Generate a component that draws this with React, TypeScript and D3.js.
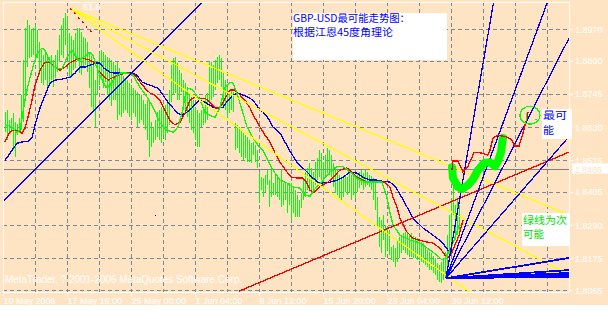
import React from "react";
import * as d3 from "d3";

// GBP-USD 4H chart with moving averages, Gann fan and hand-drawn forecast

const W = 608;
const H = 319;
const PANEL_H = 305;
const plot = { left: 3, right: 569, top: 2, bottom: 292 };

const priceTicks = [1.897, 1.886, 1.8745, 1.863, 1.8515, 1.8405, 1.829, 1.8175, 1.8065];
const priceTickLabels = ["1.8970", "1.8860", "1.8745", "1.8630", "1.8515", "1.8405", "1.8290", "1.8175", "1.8065"];
const timeTickBars = [0, 32, 64, 96, 128, 160, 192, 224];
const timeTickLabels = [
  "10 May 2006",
  "17 May 16:00",
  "25 May 00:00",
  "1 Jun 04:00",
  "8 Jun 12:00",
  "15 Jun 20:00",
  "23 Jun 04:00",
  "30 Jun 12:00",
];
const gridBars = d3.range(16, 273, 16);
const lastPrice = 1.8486;
const lastPriceLabel = "1.8486";

// bar index of the first entry in barHigh / barLow
const firstBar = 1;
const barHigh = [
  1.8682, 1.8689, 1.8654, 1.8661, 1.8678, 1.8647, 1.864, 1.8661, 1.8741, 1.8862,
  1.8973, 1.9001, 1.8983, 1.8966, 1.8973, 1.8983, 1.8966, 1.8924, 1.8897, 1.8879,
  1.8886, 1.8876, 1.8872, 1.8879, 1.8862, 1.8879, 1.8897, 1.8949, 1.8983, 1.9008,
  1.9025, 1.9011, 1.8956, 1.8945, 1.8931, 1.8956, 1.8973, 1.8973, 1.8959, 1.8942,
  1.8938, 1.8924, 1.889, 1.8876, 1.8855, 1.8793, 1.8852, 1.8886, 1.8897, 1.889,
  1.8879, 1.8872, 1.8869, 1.8862, 1.8855, 1.8845, 1.8855, 1.8834, 1.882, 1.8807,
  1.8793, 1.8793, 1.8782, 1.8775, 1.8765, 1.8758, 1.8751, 1.8741, 1.8741, 1.8723,
  1.8709, 1.8723, 1.8723, 1.8647, 1.863, 1.8654, 1.8682, 1.8689, 1.8699, 1.8689,
  1.8706, 1.8723, 1.8758, 1.8845, 1.8869, 1.8872, 1.8852, 1.8827, 1.8817, 1.8793,
  1.8782, 1.8768, 1.8748, 1.8734, 1.8723, 1.8696, 1.8689, 1.8678, 1.8689, 1.8696,
  1.8741, 1.8748, 1.8855, 1.8855, 1.8845, 1.8862, 1.8872, 1.8879, 1.8869, 1.8817,
  1.8793, 1.8768, 1.8748, 1.8758, 1.8751, 1.8644, 1.8637, 1.863, 1.8619, 1.8609,
  1.8602, 1.8595, 1.8585, 1.8574, 1.8578, 1.8567, 1.855, 1.847, 1.8456, 1.8453,
  1.8463, 1.8481, 1.8446, 1.8481, 1.8436, 1.8463, 1.8456, 1.8446, 1.8481, 1.8436,
  1.8439, 1.8436, 1.8436, 1.8436, 1.8422, 1.8411, 1.8394, 1.8377, 1.8401, 1.8446,
  1.8474, 1.8488, 1.8505, 1.8488, 1.8474, 1.8508, 1.8522, 1.855, 1.854, 1.8508,
  1.8533, 1.8557, 1.855, 1.8533, 1.8505, 1.8491, 1.8481, 1.8463, 1.8453, 1.8453,
  1.8463, 1.8456, 1.8474, 1.8463, 1.8463, 1.8456, 1.847, 1.8474, 1.8481, 1.847,
  1.8481, 1.8474, 1.8463, 1.846, 1.8453, 1.8446, 1.8387, 1.8318, 1.8307, 1.8325,
  1.829, 1.8283, 1.8273, 1.8214, 1.8221, 1.821, 1.8238, 1.8248, 1.8255, 1.8262,
  1.8266, 1.8262, 1.8255, 1.8262, 1.8252, 1.8248, 1.8245, 1.8238, 1.8231, 1.8228,
  1.8214, 1.8203, 1.8196, 1.8193, 1.8182, 1.8176, 1.8158, 1.8151, 1.8162, 1.8176,
  1.8196, 1.8255, 1.8325, 1.8377, 1.8488, 1.8359, 1.8377, 1.8359,
];
const barLow = [
  1.8612, 1.8585, 1.8609, 1.8616, 1.855, 1.8526, 1.8602, 1.8609, 1.8619, 1.8647,
  1.8741, 1.8838, 1.8869, 1.8872, 1.8879, 1.8862, 1.8869, 1.881, 1.8782, 1.8775,
  1.8793, 1.8768, 1.8775, 1.8793, 1.8768, 1.88, 1.882, 1.8855, 1.8879, 1.8869,
  1.8914, 1.889, 1.8803, 1.881, 1.8827, 1.8834, 1.8862, 1.8817, 1.881, 1.8838,
  1.8845, 1.882, 1.8765, 1.8699, 1.8682, 1.863, 1.8741, 1.8775, 1.8793, 1.8765,
  1.8786, 1.8741, 1.8723, 1.8702, 1.8723, 1.8723, 1.8654, 1.8671, 1.8664, 1.8678,
  1.8689, 1.8678, 1.8664, 1.8654, 1.8678, 1.8664, 1.863, 1.8644, 1.8654, 1.8637,
  1.8619, 1.8585, 1.8526, 1.856, 1.8574, 1.8585, 1.8595, 1.8585, 1.8574, 1.8602,
  1.8585, 1.8609, 1.8637, 1.8716, 1.8741, 1.8748, 1.8723, 1.8723, 1.8751, 1.8689,
  1.8678, 1.8664, 1.8644, 1.8619, 1.8609, 1.8585, 1.856, 1.856, 1.863, 1.8637,
  1.8644, 1.8654, 1.8699, 1.8723, 1.8734, 1.8758, 1.8782, 1.8793, 1.8768, 1.8699,
  1.8689, 1.8664, 1.8678, 1.8689, 1.8682, 1.855, 1.8557, 1.854, 1.8526, 1.8515,
  1.8522, 1.8508, 1.8508, 1.8505, 1.8533, 1.8508, 1.8488, 1.8366, 1.8411, 1.8387,
  1.8404, 1.8429, 1.8352, 1.8387, 1.8394, 1.8394, 1.8387, 1.8377, 1.8352, 1.8359,
  1.8377, 1.8332, 1.8359, 1.8307, 1.8332, 1.8318, 1.8318, 1.8318, 1.8349, 1.8377,
  1.8387, 1.8411, 1.8422, 1.8411, 1.8404, 1.8429, 1.8446, 1.8456, 1.8446, 1.8422,
  1.8453, 1.847, 1.8463, 1.8456, 1.8422, 1.8401, 1.8394, 1.8384, 1.8377, 1.8387,
  1.8404, 1.8394, 1.8401, 1.8377, 1.8394, 1.8384, 1.8404, 1.8418, 1.8429, 1.8411,
  1.8422, 1.8429, 1.8422, 1.8411, 1.8377, 1.8342, 1.8283, 1.8214, 1.8193, 1.8238,
  1.8179, 1.8203, 1.8186, 1.8169, 1.8162, 1.8144, 1.8162, 1.8176, 1.8193, 1.8203,
  1.8193, 1.8186, 1.8179, 1.8179, 1.8176, 1.8176, 1.8169, 1.8169, 1.8162, 1.8158,
  1.8151, 1.8144, 1.8134, 1.8134, 1.8124, 1.8117, 1.8099, 1.8092, 1.8089, 1.8099,
  1.8106, 1.8134, 1.8162, 1.8221, 1.8325, 1.8238, 1.8255, 1.8266,
];

// moving averages as [bar, price]
const fastMA: [number, number][] = [
  [1, 1.8633], [2.5, 1.8637], [4.5, 1.863], [6.5, 1.8612], [8.5, 1.8619], [9.5, 1.8661],
  [11, 1.8723], [12.5, 1.8775], [14.5, 1.8827], [16, 1.8862], [17.5, 1.889], [19.5, 1.8904],
  [21, 1.8897], [22.5, 1.8872], [24.5, 1.8845], [27, 1.8834], [29.5, 1.8834], [31, 1.8855],
  [32.5, 1.8879], [34.5, 1.8897], [36, 1.8879], [37.5, 1.8862], [39.5, 1.8869], [41.5, 1.8879],
  [43.5, 1.889], [45, 1.8879], [46.5, 1.8845], [48.5, 1.881], [50, 1.8786], [51.5, 1.8768],
  [53.5, 1.8775], [56, 1.88], [58.5, 1.8817], [62, 1.8817], [65, 1.881], [68.5, 1.8768],
  [72, 1.8734], [75, 1.8699], [78.5, 1.8644], [82, 1.8619], [85, 1.8612], [87.5, 1.863],
  [89.5, 1.8678], [91, 1.8734], [92.5, 1.8765], [95, 1.8758], [98.5, 1.8723], [101, 1.8682],
  [103.5, 1.8671], [106, 1.8664], [108.5, 1.8699], [111, 1.8768], [113.5, 1.8786], [115, 1.8782],
  [117, 1.8748], [119.5, 1.8689], [122, 1.863], [125, 1.8592], [127.5, 1.8567], [130, 1.855],
  [132.5, 1.8515], [135, 1.8481], [138.5, 1.8446], [142, 1.8436], [145, 1.8422], [148.5, 1.8418],
  [151, 1.8394], [153.5, 1.839], [157, 1.8425], [160, 1.8446], [163.5, 1.8474], [167, 1.8494],
  [170, 1.8494], [173.5, 1.8474], [177, 1.8453], [181, 1.8439], [185, 1.8439], [189.5, 1.8439],
  [192, 1.8384], [193.5, 1.8332], [195, 1.829], [198.5, 1.8255], [203.5, 1.8238], [208.5, 1.8228],
  [213.5, 1.8203], [217, 1.8186], [219.5, 1.8169], [221, 1.8176], [223.5, 1.8203], [226, 1.8245],
  [228, 1.829],
];
const midMA: [number, number][] = [
  [1, 1.8578], [2.5, 1.8602], [4.5, 1.8619], [7.5, 1.8619], [9.5, 1.8609], [11, 1.8626],
  [12.5, 1.8664], [14.5, 1.8723], [16, 1.8775], [18.5, 1.8827], [21, 1.8855], [23.5, 1.8855],
  [26, 1.8838], [28.5, 1.8827], [31, 1.8838], [33.5, 1.8852], [36, 1.8862], [39.5, 1.8869],
  [43.5, 1.8862], [46, 1.8852], [47.5, 1.8827], [50, 1.881], [52.5, 1.8793], [54.5, 1.88],
  [57.5, 1.881], [61, 1.8817], [63.5, 1.8817], [66, 1.881], [68.5, 1.8786], [71, 1.8765],
  [73.5, 1.8748], [76, 1.8741], [78.5, 1.8723], [81, 1.8689], [83.5, 1.8654], [86, 1.8637],
  [88.5, 1.8647], [91, 1.8678], [93.5, 1.8723], [96, 1.8734], [98.5, 1.873], [101, 1.873],
  [103.5, 1.8716], [106, 1.8696], [108.5, 1.8696], [111, 1.873], [113.5, 1.8758], [116, 1.8758],
  [118.5, 1.8741], [121, 1.8723], [123.5, 1.8696], [126, 1.8661], [128.5, 1.863], [131, 1.8602],
  [133.5, 1.8578], [136, 1.854], [138.5, 1.8508], [142, 1.8474], [144.5, 1.8456], [147, 1.8453],
  [150, 1.8453], [152, 1.8436], [153.5, 1.8411], [155.5, 1.8404], [158.5, 1.8425], [162, 1.8436],
  [165, 1.8456], [168.5, 1.8481], [172, 1.8488], [174.5, 1.8474], [177, 1.8456], [181, 1.8442],
  [186, 1.8439], [191, 1.8439], [193.5, 1.8422], [195, 1.8387], [197, 1.8352], [198.5, 1.8314],
  [202, 1.8266], [205, 1.8245], [210, 1.8234], [215, 1.8228], [218.5, 1.821], [221, 1.8186],
  [222.5, 1.8176], [224.5, 1.8196], [226, 1.8221], [228, 1.8255], [230, 1.8307],
];
const slowMA: [number, number][] = [
  [1, 1.8515], [2.5, 1.8529], [4.5, 1.855], [7, 1.8574], [9.5, 1.8578], [12.5, 1.8581],
  [14.5, 1.8592], [16, 1.8637], [18.5, 1.8696], [21, 1.8741], [23.5, 1.8782], [26, 1.8793],
  [29.5, 1.8796], [33.5, 1.8803], [36, 1.8817], [38.5, 1.8838], [41, 1.8838], [43.5, 1.8845],
  [46.5, 1.8852], [48.5, 1.8852], [50.5, 1.8834], [53.5, 1.882], [56, 1.8817], [58.5, 1.8817],
  [62, 1.8817], [65, 1.8817], [67, 1.881], [69.5, 1.8786], [73.5, 1.8775], [77.5, 1.8765],
  [80, 1.8741], [82.5, 1.8716], [85, 1.8696], [87.5, 1.8678], [89.5, 1.8671], [92, 1.8682],
  [94.5, 1.8696], [97, 1.8716], [98.5, 1.8723], [101, 1.8716], [105, 1.8699], [107.5, 1.8696],
  [110, 1.8699], [112.5, 1.8723], [115, 1.8741], [117.5, 1.8748], [120, 1.8741], [122.5, 1.8734],
  [125, 1.8723], [127.5, 1.8699], [130, 1.8682], [132.5, 1.8661], [135, 1.863], [138.5, 1.8609],
  [141, 1.8578], [143.5, 1.8546], [147, 1.8508], [151, 1.8481], [155, 1.8453], [157.5, 1.8439],
  [159.5, 1.8436], [163.5, 1.8439], [167, 1.8446], [170, 1.8456], [173.5, 1.8474], [177, 1.847],
  [180, 1.8456], [183.5, 1.8446], [187, 1.8446], [190, 1.8442], [193.5, 1.8439], [196, 1.8425],
  [198.5, 1.8397], [201, 1.8366], [205, 1.8314], [210, 1.828], [215, 1.8255], [219.5, 1.8231],
  [222.5, 1.8203], [224.5, 1.82],
];

// Gann fan from the 30 Jun low
const fanOrigin: [number, number] = [221.5, 1.8106];
const fanEnds: [number, number][] = [
  [245.3, 1.9063], [272.2, 1.9063], [283, 1.8938], [283, 1.8597],
  [283, 1.8176], [283, 1.8134], [283, 1.8124], [283, 1.8117], [283, 1.8111],
];
// yellow fan from the 61.8 swing high
const yellowOrigin: [number, number] = [33.5, 1.9042];
const yellowEnds: [number, number][] = [[283, 1.8325], [283, 1.8117], [233.5, 1.8058]];
const fibDotted: [number, number][] = [[33.5, 1.9042], [44.5, 1.8956]];
const blueTrend: [number, number][] = [[0, 1.8373], [99.5, 1.9063]];
const redTrend: [number, number][] = [[118, 1.8061], [283, 1.8543]];
const blueDot: [number, number] = [76, 1.8325];

// hand-drawn forecast paths
const likelyPath: [number, number][] = [
  [224.5, 1.8481], [225, 1.8512], [227.5, 1.8512], [230, 1.8474], [232.5, 1.8494],
  [234.5, 1.8526], [235.5, 1.8543], [239, 1.854], [242.5, 1.8533], [243.5, 1.855],
  [245, 1.8592], [247.5, 1.8602], [252, 1.8595], [254.5, 1.8585], [256, 1.8564],
  [258, 1.8564], [259, 1.8588], [260, 1.8609], [261, 1.8637], [262, 1.8661], [262.5, 1.8682],
];
const secondPath: [number, number][] = [
  [224.5, 1.8491], [225, 1.8453], [227.5, 1.8422], [229.5, 1.8415], [232.5, 1.8429],
  [235, 1.8449], [237.5, 1.8481], [240.5, 1.8505], [243.5, 1.8508], [246, 1.8494],
  [247.5, 1.8512], [249, 1.8543], [249.5, 1.8571], [250, 1.8592],
];
const targetCenter: [number, number] = [263.5, 1.8671];
const targetTick: [number, number][] = [[261.5, 1.8678], [261.5, 1.865]];
const targetDash: [number, number][] = [[266, 1.8657], [267, 1.8657]];

const x = d3.scaleLinear().domain([0, 283]).range([plot.left, plot.right]);
const y = d3.scaleLinear().domain([1.8065, 1.897]).range([290, 29]);

const line = d3
  .line<[number, number]>()
  .x((d) => x(d[0]))
  .y((d) => y(d[1]));

const BG = "#FFE4C4";
const GRID = "#778899";
const axisFont = "'Liberation Sans', Arial, sans-serif";
const cjkFont = "'Noto Sans CJK SC', sans-serif";
const crisp = "crispEdges";
const LW = 1.3;

export default function App() {
  const bars = barHigh.map((h, k) => {
    const b = firstBar + k;
    return { px: Math.round(x(b)) + 0.5, y1: y(h), y2: y(barLow[k]) };
  });

  return (
    <div style={{ position: "absolute", left: 0, top: 0 }}>
      <svg width={W} height={H} style={{ display: "block" }}>
        <defs>
          <clipPath id="plotClip">
            <rect x={plot.left} y={plot.top} width={plot.right - plot.left} height={plot.bottom - plot.top} />
          </clipPath>
        </defs>
        <rect x={0} y={0} width={W} height={H} fill="#ffffff" />
        <rect x={0} y={0} width={W} height={PANEL_H} fill={BG} />

        <g clipPath="url(#plotClip)">
          {/* grid */}
          {priceTicks.map((p) => (
            <line
              key={"h" + p}
              x1={plot.left}
              x2={plot.right}
              y1={Math.round(y(p)) + 0.5}
              y2={Math.round(y(p)) + 0.5}
              stroke={GRID}
              strokeDasharray="4,3"
              shapeRendering={crisp}
            />
          ))}
          {gridBars.map((b) => (
            <line
              key={"v" + b}
              x1={Math.round(x(b)) + 0.5}
              x2={Math.round(x(b)) + 0.5}
              y1={plot.top}
              y2={plot.bottom}
              stroke={GRID}
              strokeDasharray="4,3"
              shapeRendering={crisp}
            />
          ))}
          <line
            x1={plot.left}
            x2={plot.right}
            y1={Math.round(y(lastPrice)) + 0.5}
            y2={Math.round(y(lastPrice)) + 0.5}
            stroke="#808080"
            shapeRendering={crisp}
          />

          {/* price bars */}
          {bars.map((d, k) => (
            <line key={"b" + k} x1={d.px} x2={d.px} y1={d.y1} y2={d.y2} stroke="#00FF00" shapeRendering={crisp} />
          ))}

          {/* moving averages */}
          <path d={line(slowMA) || ""} fill="none" stroke="#0000FF" strokeWidth={LW} shapeRendering={crisp} />
          <path d={line(midMA) || ""} fill="none" stroke="#FF0000" strokeWidth={LW} shapeRendering={crisp} />
          <path d={line(fastMA) || ""} fill="none" stroke="#00FF00" strokeWidth={LW} shapeRendering={crisp} />

          {/* trend lines */}
          <path d={line(blueTrend) || ""} stroke="#0000FF" strokeWidth={LW} fill="none" shapeRendering={crisp} />
          <path d={line(redTrend) || ""} stroke="#FF0000" strokeWidth={LW} fill="none" shapeRendering={crisp} />
          {yellowEnds.map((e, k) => (
            <path
              key={"y" + k}
              d={line([yellowOrigin, e]) || ""}
              stroke="#FFFF00"
              strokeWidth={LW}
              fill="none"
              shapeRendering={crisp}
            />
          ))}
          <path
            d={line(fibDotted) || ""}
            stroke="#FF0000"
            strokeWidth={LW}
            strokeDasharray="2,4"
            fill="none"
            shapeRendering={crisp}
          />
          {fanEnds.map((e, k) => (
            <path
              key={"f" + k}
              d={line([fanOrigin, e]) || ""}
              stroke="#0000FF"
              strokeWidth={k >= 4 ? 1.8 : LW}
              fill="none"
              shapeRendering={crisp}
            />
          ))}
          <rect x={x(blueDot[0])} y={y(blueDot[1])} width={1} height={1} fill="#0000FF" />

          {/* forecast drawings */}
          <path
            d={line(secondPath) || ""}
            stroke="#00FF00"
            strokeWidth={8}
            strokeLinecap="round"
            strokeLinejoin="round"
            fill="none"
          />
          <path d={line(likelyPath) || ""} stroke="#FF0000" strokeWidth={LW} fill="none" shapeRendering={crisp} />
          <ellipse
            cx={x(targetCenter[0])}
            cy={y(targetCenter[1])}
            rx={10}
            ry={9}
            stroke="#00FF00"
            strokeWidth={LW}
            fill="none"
            shapeRendering={crisp}
          />
          <path d={line(targetTick) || ""} stroke="#00FF00" strokeWidth={1} fill="none" shapeRendering={crisp} />
          <path d={line(targetDash) || ""} stroke="#00FF00" strokeWidth={1} fill="none" shapeRendering={crisp} />

          <text x={83} y={10} fill="#ffffff" fontFamily={axisFont} fontSize={9}>
            61.8
          </text>
          <text x={5} y={283} fill="#ffffff" fontFamily={axisFont} fontSize={10} textLength={237} lengthAdjust="spacingAndGlyphs">
            MetaTrader, ? 2001-2006 MetaQuotes Software Corp.
          </text>
        </g>

        {/* frame */}
        <g stroke="#ffffff" shapeRendering={crisp}>
          <line x1={plot.left} x2={plot.right} y1={plot.top + 0.5} y2={plot.top + 0.5} />
          <line x1={plot.left + 0.5} x2={plot.left + 0.5} y1={plot.top} y2={plot.bottom + 5} />
          <line x1={plot.right + 0.5} x2={plot.right + 0.5} y1={plot.top} y2={plot.bottom} />
          <line x1={plot.left} x2={plot.right} y1={plot.bottom + 0.5} y2={plot.bottom + 0.5} />
        </g>

        {/* price axis */}
        {priceTicks.map((p, k) => (
          <g key={"pt" + k}>
            <line
              x1={plot.right}
              x2={plot.right + 4}
              y1={Math.round(y(p)) + 0.5}
              y2={Math.round(y(p)) + 0.5}
              stroke="#ffffff"
              shapeRendering={crisp}
            />
            <text x={575} y={y(p) + 3.5} fill="#ffffff" fontFamily={axisFont} fontSize={9}>
              {priceTickLabels[k]}
            </text>
          </g>
        ))}
        <rect x={572} y={y(lastPrice) - 5} width={36} height={10} fill="#ffffff" />
        <text x={575} y={y(lastPrice) + 4.8} fill={BG} fontFamily={axisFont} fontSize={8.5} textLength={27} lengthAdjust="spacingAndGlyphs">
          {lastPriceLabel}
        </text>

        {/* time axis */}
        {timeTickBars.map((b, k) => (
          <g key={"tt" + k}>
            <line
              x1={Math.round(x(b)) + 0.5}
              x2={Math.round(x(b)) + 0.5}
              y1={plot.bottom}
              y2={plot.bottom + 5}
              stroke="#ffffff"
              shapeRendering={crisp}
            />
            <text x={x(b) + 0.5} y={304} fill="#ffffff" fontFamily={axisFont} fontSize={9}>
              {timeTickLabels[k]}
            </text>
          </g>
        ))}

        {/* text labels */}
        <rect x={293} y={13} width={154} height={47} fill="#ffffff" />
        <text x={293} y={21.5} fill="#0000FF" fontFamily={cjkFont} fontSize={10} textLength={117} lengthAdjust="spacingAndGlyphs">
          GBP-USD最可能走势图：
        </text>
        <text x={293} y={36} fill="#0000FF" fontFamily={cjkFont} fontSize={10} textLength={100} lengthAdjust="spacingAndGlyphs">
          根据江恩45度角理论
        </text>

        <rect x={542} y={109} width={30} height={30} fill="#ffffff" />
        <text x={543} y={119} fill="#0000FF" fontFamily={cjkFont} fontSize={10} textLength={24} lengthAdjust="spacingAndGlyphs">
          最可
        </text>
        <text x={543} y={133.5} fill="#0000FF" fontFamily={cjkFont} fontSize={10} textLength={11} lengthAdjust="spacingAndGlyphs">
          能
        </text>

        <rect x={522} y={213} width={47} height={33} fill="#ffffff" />
        <text x={523} y={223.5} fill="#00E000" fontFamily={cjkFont} fontSize={10} textLength={44} lengthAdjust="spacingAndGlyphs">
          绿线为次
        </text>
        <text x={523} y={238} fill="#00E000" fontFamily={cjkFont} fontSize={10} textLength={21} lengthAdjust="spacingAndGlyphs">
          可能
        </text>
      </svg>
    </div>
  );
}
